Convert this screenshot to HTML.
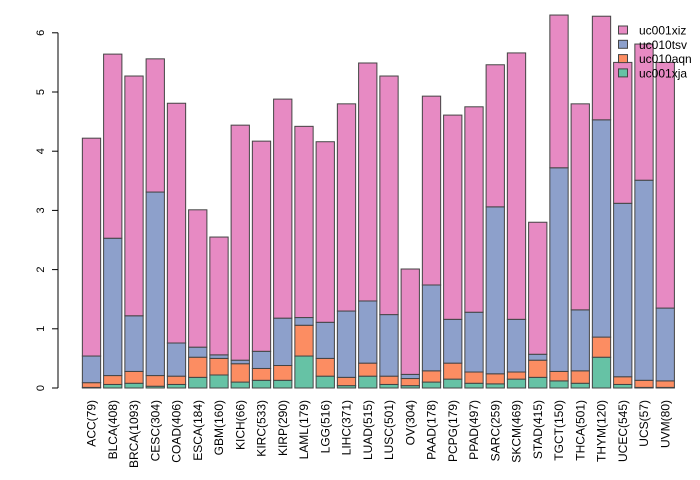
<!DOCTYPE html>
<html><head><meta charset="utf-8"><style>
html,body{margin:0;padding:0;background:#fff;}
svg{display:block;font-family:"Liberation Sans",sans-serif;}
</style></head><body>
<svg id="chart" width="700" height="480" viewBox="0 0 700 480" xmlns="http://www.w3.org/2000/svg"></svg>
<script>
const categories=["ACC(79)","BLCA(408)","BRCA(1093)","CESC(304)","COAD(406)","ESCA(184)","GBM(160)","KICH(66)","KIRC(533)","KIRP(290)","LAML(179)","LGG(516)","LIHC(371)","LUAD(515)","LUSC(501)","OV(304)","PAAD(178)","PCPG(179)","PPAD(497)","SARC(259)","SKCM(469)","STAD(415)","TGCT(150)","THCA(501)","THYM(120)","UCEC(545)","UCS(57)","UVM(80)"];
const seriesNames=["uc001xja","uc010aqn","uc010tsv","uc001xiz"];
const xja=[0.01,0.06,0.08,0.03,0.06,0.18,0.22,0.10,0.13,0.13,0.54,0.20,0.04,0.20,0.06,0.04,0.10,0.15,0.08,0.07,0.15,0.18,0.12,0.08,0.52,0.06,0.01,0.01];
const aqn=[0.08,0.15,0.20,0.18,0.14,0.34,0.28,0.31,0.20,0.25,0.52,0.30,0.14,0.22,0.14,0.12,0.19,0.27,0.19,0.17,0.12,0.29,0.16,0.21,0.34,0.13,0.12,0.11];
const tsv=[0.45,2.32,0.94,3.10,0.56,0.17,0.06,0.06,0.29,0.80,0.13,0.61,1.12,1.05,1.04,0.07,1.45,0.74,1.01,2.82,0.89,0.10,3.44,1.03,3.67,2.93,3.38,1.23];
const xiz=[3.68,3.11,4.05,2.25,4.05,2.32,1.99,3.97,3.55,3.70,3.23,3.05,3.50,4.02,4.03,1.78,3.19,3.45,3.47,2.40,4.50,2.23,2.58,3.48,1.75,2.38,2.30,4.15];
const yTicks=[0,1,2,3,4,5,6];
const colors=["#66C2A5","#FC8D62","#8DA0CB","#E78AC3"];
const svg=document.getElementById('chart');
const NS="http://www.w3.org/2000/svg";
const y0=388, pxPerUnit=59.2;
function yScale(v){return y0-v*pxPerUnit;}
function xCenter(i){return 91.5+i*21.25;}
const barW=18.3;
function mk(tag,attrs){const e=document.createElementNS(NS,tag);for(const k in attrs)e.setAttribute(k,attrs[k]);svg.appendChild(e);return e;}
const series=[xja,aqn,tsv,xiz];
categories.forEach((c,i)=>{
  let base=0;
  series.forEach((arr,s)=>{
    const v=arr[i];
    const r=mk('rect',{x:xCenter(i)-barW/2,y:yScale(base+v),width:barW,height:v*pxPerUnit,fill:colors[s],stroke:'#444','stroke-width':1});
    
    
    base+=v;
  });
  const t=mk('text',{x:0,y:0,transform:`translate(${xCenter(i)+4},400) rotate(-90)`,'text-anchor':'end','font-size':'12',fill:'#000'});
  t.textContent=c;
  
  
});
const ax=mk('line',{x1:58,x2:58,y1:yScale(yTicks[0]),y2:yScale(yTicks[yTicks.length-1]),stroke:'#000','stroke-width':1});


yTicks.forEach(v=>{
  const tk=mk('line',{x1:52,x2:58,y1:yScale(v),y2:yScale(v),stroke:'#000','stroke-width':1});
  
  
  const t=mk('text',{x:0,y:0,transform:`translate(44,${yScale(v)}) rotate(-90)`,'text-anchor':'middle','font-size':'11',fill:'#000'});
  t.textContent=v;
  
  
});
const legendOrder=[3,2,1,0];
legendOrder.forEach((s,k)=>{
  const yy=30+k*14.3;
  const b=mk('rect',{x:618.5,y:yy-4,width:9,height:8,fill:colors[s],stroke:'#444','stroke-width':1});
  
  
  const t=mk('text',{x:639,y:yy+4.5,'font-size':'12',fill:'#000'});
  t.textContent=seriesNames[s];
  
  
});
</script>
</body></html>
